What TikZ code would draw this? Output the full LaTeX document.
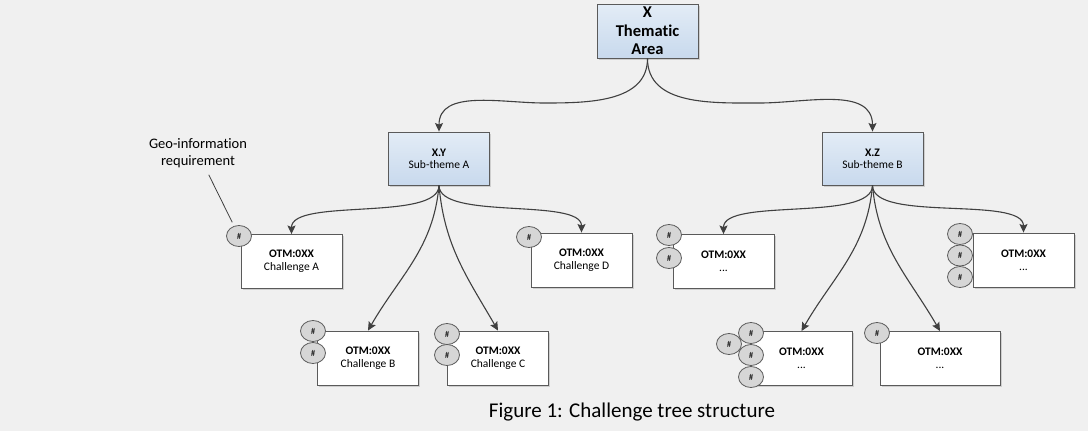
\documentclass[tikz,border=0pt]{standalone}
\usepackage{fontspec}
\setmainfont{Carlito}[Ligatures=CommonOff]
\usetikzlibrary{positioning}
\usetikzlibrary{calc}
\usetikzlibrary{arrows.meta}
\usetikzlibrary{shapes.geometric}
\usetikzlibrary{shadows}
\definecolor{bg}{HTML}{F0F0F0}
\definecolor{edge}{HTML}{404040}
\definecolor{frame}{HTML}{5A5A5A}
\definecolor{themetop}{HTML}{E3ECF6}
\definecolor{themebot}{HTML}{C8D9ED}
\definecolor{reqfill}{HTML}{D6D6D6}
\tikzset{>={Stealth[length=8.5pt,width=8pt,inset=1.5pt]}}
\tikzset{theme/.style={draw=frame, line width=0.9pt, top color=themetop, bottom color=themebot, minimum width=101pt, minimum height=53pt, inner sep=0pt, align=center, drop shadow={shadow xshift=1.5pt, shadow yshift=-1.5pt, opacity=0.3}}}
\tikzset{chal/.style={draw=frame, line width=0.9pt, fill=white, minimum width=101pt, minimum height=54pt, inner sep=0pt, align=center, font=\fontsize{11.5}{13}\selectfont, drop shadow={shadow xshift=1.5pt, shadow yshift=-1.5pt, opacity=0.3}}}
\tikzset{req/.style={ellipse, draw=frame, line width=0.8pt, fill=reqfill, minimum width=25pt, minimum height=21pt, inner sep=0pt, font=\fontsize{9}{10}\selectfont}}
\tikzset{link/.style={->, draw=edge, line width=1.1pt}}

\begin{document}
\begin{tikzpicture}[x=1pt, y=1pt, on grid]
        \fill[bg] (0,0) rectangle (1088,-431);
        \useasboundingbox (0,0) rectangle (1088,-431);

        \node[theme, minimum height=54pt, font=\fontsize{16.5}{18.5}\selectfont\bfseries] (x) at (647.5,-31) {X\\Thematic\\Area};
        \node[theme, font=\fontsize{11.5}{12}\selectfont] (xy) at (439,-158.5) {\textbf{X.Y}\\Sub-theme A};
        \node[theme, font=\fontsize{11.5}{12}\selectfont] (xz) at (872.5,-158.5) {\textbf{X.Z}\\Sub-theme B};

        \node[chal] (ca) at (291.5,-261.5) {\textbf{OTM:0XX}\\Challenge A};
        \node[chal] (cd) at (581.5,-260) {\textbf{OTM:0XX}\\Challenge D};
        \node[chal] (cb) at (368,-358) {\textbf{OTM:0XX}\\Challenge B};
        \node[chal] (cc) at (498,-358) {\textbf{OTM:0XX}\\Challenge C};
        \node[chal] (ce) at (723.5,-261.5) {\textbf{OTM:0XX}\\...};
        \node[chal] (cf) at (1023.5,-260) {\textbf{OTM:0XX}\\...};
        \node[chal] (cg) at (801.5,-358.5) {\textbf{OTM:0XX}\\...};
        \node[chal, minimum width=120pt] (ch) at (940,-358.5) {\textbf{OTM:0XX}\\...};

        \node[req] (ra) at (239,-236) {\#};
        \node[req] (rd) at (529,-237) {\#};
        \node[req] (rb1) at (313,-331) {\#};
        \node[req] (rb2) [below=22pt of rb1] {\#};
        \node[req] (rc1) at (447,-334) {\#};
        \node[req] (rc2) [below=21pt of rc1] {\#};
        \node[req] (re1) at (669,-235) {\#};
        \node[req] (re2) [below=23pt of re1] {\#};
        \node[req] (rf1) at (960,-234) {\#};
        \node[req] (rf2) [below=21.5pt of rf1] {\#};
        \node[req] (rf3) [below=21.5pt of rf2] {\#};
        \node[req] (rg4) at (729,-344) {\#};
        \node[req] (rg1) at (751,-333) {\#};
        \node[req] (rg2) [below=22pt of rg1] {\#};
        \node[req] (rg3) [below=22pt of rg2] {\#};
        \node[req] (rh) at (877,-333) {\#};

        \node[font=\fontsize{14.5}{17}\selectfont, align=center] (geo) at (198,-153) {Geo-information\\requirement};
        \node[font=\fontsize{21}{25}\selectfont] (cap) at (632,-412) {Figure 1: Challenge tree structure};

        \coordinate (hl) at (544,-103);
        \coordinate (hr) at (760,-103);

        \draw[link] (x.south) to[out=-90,in=0] (hl) to[out=180,in=90] (xy.north);
        \draw[link] (x.south) to[out=-90,in=180] (hr) to[out=0,in=90] (xz.north);

        \draw[link] (xy.south) to[out=-90,in=90,looseness=0.6] (ca.north);
        \draw[link] (xy.south) to[out=-90,in=90,looseness=0.6] (cd.north);
        \draw[link] (xy.south) to[out=-95,in=60] (cb.north);
        \draw[link] (xy.south) to[out=-85,in=120] (cc.north);

        \draw[link] (xz.south) to[out=-90,in=90,looseness=0.6] (ce.north);
        \draw[link] (xz.south) to[out=-90,in=90,looseness=0.6] (cf.north);
        \draw[link] (xz.south) to[out=-95,in=60] (cg.north);
        \draw[link] (xz.south) to[out=-85,in=120] (ch.north);

        \draw[draw=edge, line width=0.8pt, shorten <=4pt, shorten >=4pt] (geo) -- (ra);
    \end{tikzpicture}
\end{document}
